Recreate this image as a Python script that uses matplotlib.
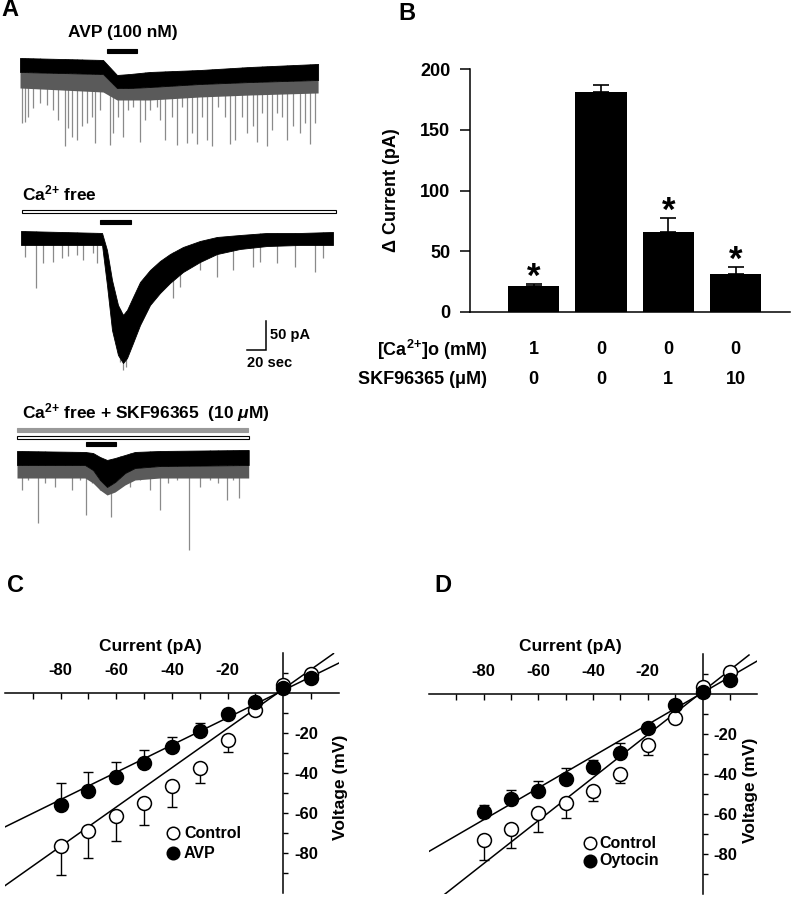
import matplotlib
matplotlib.use("Agg")
import matplotlib.pyplot as plt
import matplotlib.patches as patches
import matplotlib.transforms as mtransforms
import numpy as np

# ---------------- fonts ----------------
plt.rcParams['font.family'] = ['Liberation Sans', 'DejaVu Sans']
plt.rcParams['font.weight'] = 'bold'
plt.rcParams['axes.unicode_minus'] = False
plt.rcParams['mathtext.fontset'] = 'custom'
plt.rcParams['mathtext.rm'] = 'Liberation Sans:bold'
plt.rcParams['mathtext.it'] = 'Liberation Sans:bold:italic'
plt.rcParams['mathtext.bf'] = 'Liberation Sans:bold'
plt.rcParams['mathtext.default'] = 'rm'

W, H = 793, 899

# ==========================================
# DATA  (time in s, current in pA, voltage in mV)
# ==========================================
# --- A: trace 1, AVP (100 nM) ---
A1_T = [0, 87.4, 102.1, 115.8, 136.8, 189.5, 242.2, 313.8]
A1_TOP = [0, -3.4, -29.3, -27.6, -24.1, -20.7, -15.5, -10.3]
A1_BOT = [-24.1, -27.6, -51.7, -51.7, -50.0, -44.8, -41.4, -37.9]
A1_FRINGE = [-51.7, -58.6, -72.4, -72.4, -72.4, -67.2, -63.8, -60.3]
A1_EVT_T = [1.8, 5.3, 8.8, 14.0, 21.1, 28.1, 35.1, 40.4, 47.4, 50.9, 54.4, 59.6, 64.9, 70.2,
            75.4, 79.0, 84.2, 94.8, 98.3, 103.6, 108.8, 114.1, 119.4, 126.4, 131.6, 136.9,
            143.9, 147.4, 152.7, 159.7, 165.0, 170.2, 175.5, 180.8, 186.0, 191.3, 196.5,
            201.8, 208.8, 215.8, 221.1, 226.4, 233.4, 238.7, 245.7, 249.2, 254.5, 259.7,
            265.0, 270.3, 275.5, 280.8, 287.8, 294.8, 300.1, 305.4, 310.6]
A1_EVT_I = [-112.6, -109.8, -101.0, -86.8, -78.0, -81.0, -89.6, -106.9, -152, -121.0, -135.6,
            -141.0, -118.0, -112.6, -101.0, -146, -89.6, -150, -129.9, -101.0, -135.6, -89.6,
            -83.9, -144, -106.9, -89.6, -83.9, -106.9, -141.0, -101.0, -150, -83.9, -147,
            -129.9, -148, -101.0, -141.0, -152, -83.9, -101.0, -149, -141.0, -101.0, -129.9,
            -118.0, -145, -95.4, -151, -124.0, -95.4, -101.0, -141.0, -118.0, -129.9, -112.6,
            -148, -112.6]
A1_AVP = (91.6, 123.2)

# --- A: trace 2, Ca2+ free ---
A2_T = [0, 85.3, 90.5, 95.8, 102.1, 107.4, 111.6, 117.9, 125.3, 135.8, 146.3, 156.8, 170.5,
        188.4, 206.3, 230.5, 258.9, 293.6, 328.4]
A2_TOP = [0, -3.4, -32.8, -84.5, -127.6, -144.8, -136.2, -113.8, -87.9, -67.2, -51.7, -39.7,
          -27.6, -17.2, -10.3, -6.9, -3.4, -3.4, -1.7]
A2_BOT = [-24.1, -24.1, -93.1, -170.7, -213.8, -227.6, -219.0, -193.1, -162.1, -127.6, -106.9,
          -89.6, -70.7, -53.4, -39.7, -31.0, -25.9, -24.1, -24.1]
A2_EVT_T = [4.2, 15.8, 23.5, 34.0, 42.8, 49.9, 58.6, 65.7, 76.2, 79.7, 104.0, 107.0, 111.0,
            160.4, 167.4, 188.4, 206.0, 223.5, 244.6, 251.6, 269.1, 288.4, 309.5, 318.3]
A2_EVT_I = [-44.3, -98.8, -55.7, -52.9, -47.1, -43.1, -41.4, -50.0, -38.5, -55.7, -225.0,
            -240.0, -235.0, -116.0, -96.0, -67.2, -78.7, -67.2, -61.5, -52.9, -55.7, -61.5,
            -70.1, -47.1]
A2_CAFREE = (1.1, 331.7)
A2_AVP = (83.2, 115.8)

# --- A: trace 3, Ca2+ free + SKF96365 (10 uM) ---
A3_T = [0, 71.6, 80.0, 87.4, 94.8, 103.2, 113.7, 124.2, 150.5, 243.9]
A3_TOP = [-1.7, -3.4, -5.2, -12.1, -17.2, -13.8, -8.6, -3.4, -1.7, 0]
A3_BOT = [-25.9, -25.9, -34.5, -51.7, -63.8, -55.2, -39.7, -31.0, -27.6, -25.9]
A3_FRINGE = [-48.3, -48.3, -56.9, -69.0, -77.6, -72.4, -60.3, -51.7, -48.3, -48.3]
A3_EVT_T = [4.9, 11.9, 22.5, 29.5, 40.0, 50.5, 57.6, 66.3, 72.7, 78.6, 87.4, 99.0, 108.5,
            119.0, 129.5, 140.1, 150.6, 159.4, 168.1, 181.1, 192.7, 203.2, 212.0, 220.8,
            227.8, 234.1, 241.8]
A3_EVT_I = [-69.0, -51.7, -126.4, -57.5, -63.2, -46.0, -69.0, -51.7, -112.0, -57.5, -69.0,
            -115.0, -51.7, -63.2, -51.7, -69.0, -103.4, -57.5, -51.7, -172.4, -63.2, -51.7,
            -57.5, -86.2, -51.7, -83.3, -46.0]
A3_SKF = (0, 243.2)
A3_CAFREE = (0, 244.3)
A3_AVP = (72.7, 104.2)

SCALE_T = 20   # sec
SCALE_I = 50   # pA

# --- B ---
B_MEAN = [21, 181, 66, 31]
B_SEM = [2, 6, 11.5, 6]
B_STAR = [True, False, True, True]
B_CA = ['1', '0', '0', '0']
B_SKF = ['0', '0', '1', '10']

# --- C / D : I-V relations ---
IV_I = [-80, -70, -60, -50, -40, -30, -20, -10, 0, 10]
C_CTRL_V = [-76.5, -69, -61.5, -55, -46.5, -37.5, -23.5, -8.5, 4, 9.5]
C_CTRL_ELO = [14.5, 13.5, 12.5, 11, 10.5, 7.5, 6, 0, 0, 0]
C_AVP_V = [-56, -49, -42, -35, -27, -19, -10.5, -4.5, 2.5, 7.5]
C_AVP_EHI = [11, 9.5, 7.5, 6.5, 5, 4, 0, 0, 0, 0]
C_CTRL_FIT = ([-100, 18], [-96.4, 19.7])
C_AVP_FIT = ([-100, 20], [-67.0, 15.0])

D_CTRL_V = [-73, -67.5, -59.5, -54.5, -48.5, -40, -25.5, -12, 3.5, 11]
D_CTRL_ELO = [10, 9.5, 9.5, 7.5, 5, 4.5, 5, 0, 0, 0]
D_CTRL_EHI = [0, 0, 0, 0, 0, 0, 0, 0, 0, 2.5]
D_OXY_V = [-59, -52.5, -48.5, -42.5, -36.5, -29.5, -17, -5.5, 1, 7]
D_OXY_EHI = [3.5, 4.5, 5, 5.5, 3.5, 5, 0, 0, 0, 0]
D_CTRL_FIT = ([-100, 17], [-106.3, 19.5])
D_OXY_FIT = ([-100, 20], [-78.7, 16.5])

IV_TICKS = [-90, -80, -70, -60, -50, -40, -30, -20, -10, 10]
IV_LABELS = ['', '-80', '', '-60', '', '-40', '', '-20', '', '']
V_LABELS = ['', '-80', '', '-60', '', '-40', '', '-20', '', '']

# ==========================================
# helpers (pixel layout)
# ==========================================
T_PX = 20 / 19.0     # sec per pixel
I_PX = 50 / 29.0     # pA per pixel

fig = plt.figure(figsize=(W / 100, H / 100), dpi=100)


def box(l, t, r, b):
    return [l / W, 1 - b / H, (r - l) / W, (b - t) / H]


def ftxt(x, y, s, **kw):
    return fig.text(x / W, 1 - y / H, s, **kw)


def trace_axes(l, t, r, b, x0, y0):
    ax = fig.add_axes(box(l, t, r, b))
    ax.set_xlim((l - x0) * T_PX, (r - x0) * T_PX)
    ax.set_ylim(-(b - y0) * I_PX, -(t - y0) * I_PX)
    ax.axis('off')
    return ax


def draw_trace(ax, t, top, bot, fringe, ev_t, ev_i):
    base = np.interp(ev_t, t, top)
    ax.vlines(ev_t, base, ev_i, color='#8a8a8a', lw=0.9, zorder=1)
    if fringe is not None:
        ax.fill_between(t, bot, fringe, color='#5a5a5a', lw=0, zorder=2)
    ax.fill_between(t, top, bot, color='black', lw=0.6, edgecolor='black', zorder=3)


def drug_bar(ax, span, py, y0, h_px, face, edge):
    yc = -(py - y0) * I_PX
    h = h_px * I_PX
    ax.add_patch(patches.Rectangle((span[0], yc - h / 2), span[1] - span[0], h,
                                   facecolor=face, edgecolor=edge, lw=0.8, clip_on=False))


CA = r'Ca$^{2{+}}$'

# ==========================================
# A
# ==========================================
ftxt(10, 10, 'A', fontsize=17, ha='center', va='center')

a1 = trace_axes(15, 40, 340, 160, 20, 58)
draw_trace(a1, A1_T, A1_TOP, A1_BOT, A1_FRINGE, A1_EVT_T, A1_EVT_I)
drug_bar(a1, A1_AVP, 51, 58, 4.3, 'black', 'black')
ftxt(68, 32, 'AVP (100 nM)', fontsize=12.5, ha='left', va='center')

a2 = trace_axes(15, 200, 340, 375, 21, 231)
draw_trace(a2, A2_T, A2_TOP, A2_BOT, None, A2_EVT_T, A2_EVT_I)
drug_bar(a2, A2_CAFREE, 211.5, 231, 3.5, 'white', 'black')
drug_bar(a2, A2_AVP, 222, 231, 4.3, 'black', 'black')
ftxt(22, 193, CA + ' free', fontsize=12.5, ha='left', va='center')
# scale bar
sb_t = (266 - 21) * T_PX
sb_i = -(350 - 231) * I_PX
a2.plot([sb_t - SCALE_T, sb_t, sb_t], [sb_i, sb_i, sb_i + SCALE_I], color='black', lw=1.1,
        clip_on=False, solid_joinstyle='miter')
ftxt(270, 335, f'{SCALE_I} pA', fontsize=10.5, ha='left', va='center')
ftxt(247, 363, f'{SCALE_T} sec', fontsize=10.5, ha='left', va='center')

a3 = trace_axes(10, 420, 340, 560, 17, 450)
draw_trace(a3, A3_T, A3_TOP, A3_BOT, A3_FRINGE, A3_EVT_T, A3_EVT_I)
drug_bar(a3, A3_SKF, 430, 450, 4.3, '#999999', '#999999')
drug_bar(a3, A3_CAFREE, 437.5, 450, 3.5, 'white', 'black')
drug_bar(a3, A3_AVP, 444, 450, 4.3, 'black', 'black')
ftxt(22, 413, CA + r' free + SKF96365  (10 $\mathit{\mu}$M)', fontsize=12.5,
     ha='left', va='center')

# ==========================================
# B
# ==========================================
ftxt(407, 14, 'B', fontsize=17, ha='center', va='center')
axb = fig.add_axes(box(470, 69, 790, 312))
xb = np.arange(len(B_MEAN))
axb.bar(xb, B_MEAN, width=0.76, color='black', zorder=2)
axb.errorbar(xb, B_MEAN, yerr=[np.zeros(len(B_SEM)), B_SEM], fmt='none', ecolor='black',
             elinewidth=1.2, capsize=5.5, capthick=1.2, zorder=1)
for i, s in enumerate(B_STAR):
    if s:
        axb.annotate('*', (xb[i], B_MEAN[i] + B_SEM[i]), xytext=(0, -2),
                     textcoords='offset points', ha='center', va='baseline', fontsize=25)
axb.set_xlim(-0.948, 3.81)
axb.set_ylim(0, 200)
axb.spines[['top', 'right']].set_visible(False)
for sp in ['left', 'bottom']:
    axb.spines[sp].set_linewidth(1.1)
axb.set_xticks([])
axb.set_yticks([0, 50, 100, 150, 200])
axb.tick_params(axis='y', length=7.2, width=1.1, pad=7, labelsize=13)
ftxt(392, 190, '\u0394 Current (pA)', fontsize=13, rotation=90, ha='center', va='center')

trow = mtransforms.blended_transform_factory(axb.transData, fig.transFigure)
for i in range(len(B_CA)):
    axb.text(xb[i], 1 - 350 / H, B_CA[i], transform=trow, ha='center', va='center', fontsize=13)
    axb.text(xb[i], 1 - 380 / H, B_SKF[i], transform=trow, ha='center', va='center', fontsize=13)
ftxt(487, 350, '[' + CA + ']o (mM)', fontsize=13, ha='right', va='center')
ftxt(487, 380, 'SKF96365 (\u03bcM)', fontsize=13, ha='right', va='center')


# ==========================================
# C / D
# ==========================================
def iv_panel(rect, ctrl_v, ctrl_err, drug_v, drug_err, ctrl_fit, drug_fit, drug_name,
             leg_x, leg_tx, leg_y):
    ax = fig.add_axes(box(*rect))
    ax.set_xlim(-100, 20)
    ax.set_ylim(-100, 20)
    ax.patch.set_visible(False)
    ax.spines[['left', 'bottom']].set_visible(False)
    ax.spines['top'].set_position(('data', 0))
    ax.spines['right'].set_position(('data', 0))
    for sp in ['top', 'right']:
        ax.spines[sp].set_linewidth(1.1)
    ax.xaxis.set_ticks_position('top')
    ax.yaxis.set_ticks_position('right')
    ax.set_xticks(IV_TICKS)
    ax.set_xticklabels(IV_LABELS)
    ax.set_yticks(IV_TICKS)
    ax.set_yticklabels(V_LABELS)
    ax.tick_params(axis='x', direction='in', length=4, width=1, pad=11, labelsize=12)
    ax.tick_params(axis='y', direction='out', length=3.5, width=1, pad=4.5, labelsize=12)

    ax.plot(*ctrl_fit, color='black', lw=1.1, zorder=2)
    ax.plot(*drug_fit, color='black', lw=1.1, zorder=2)
    ax.errorbar(IV_I, ctrl_v, yerr=ctrl_err, fmt='none', ecolor='black', elinewidth=1,
                capsize=3.5, capthick=1, zorder=3)
    ax.errorbar(IV_I, drug_v, yerr=drug_err, fmt='none', ecolor='black', elinewidth=1,
                capsize=3.5, capthick=1, zorder=3)
    ax.plot(IV_I, ctrl_v, 'o', ms=10, mfc='white', mec='black', mew=1.1, zorder=4,
            clip_on=False)
    ax.plot(IV_I, drug_v, 'o', ms=10, mfc='black', mec='black', mew=1.1, zorder=5,
            clip_on=False)

    # legend
    ax.plot([leg_x], [leg_y[0]], 'o', ms=9, mfc='white', mec='black', mew=1.1,
            transform=ax.transAxes, clip_on=False)
    ax.plot([leg_x], [leg_y[1]], 'o', ms=9, mfc='black', mec='black', mew=1.1,
            transform=ax.transAxes, clip_on=False)
    ax.text(leg_tx, leg_y[0], 'Control', transform=ax.transAxes, ha='left', va='center',
            fontsize=11.5)
    ax.text(leg_tx, leg_y[1], drug_name, transform=ax.transAxes, ha='left', va='center',
            fontsize=11.5)
    return ax


ftxt(16, 586, 'C', fontsize=17, ha='center', va='center')
iv_panel((4.8, 653, 339, 893), C_CTRL_V, [C_CTRL_ELO, [0] * len(IV_I)], C_AVP_V,
         [[0] * len(IV_I), C_AVP_EHI], C_CTRL_FIT, C_AVP_FIT, 'AVP',
         (173 - 4.8) / 334.2, (184 - 4.8) / 334.2, [(893 - 833) / 240, (893 - 853) / 240])
ftxt(150, 647, 'Current (pA)', fontsize=12.5, ha='center', va='center')
ftxt(340, 787, 'Voltage (mV)', fontsize=12.5, rotation=90, ha='center', va='center')

ftxt(443, 586, 'D', fontsize=17, ha='center', va='center')
iv_panel((429, 654, 757.2, 894), D_CTRL_V, [D_CTRL_ELO, D_CTRL_EHI], D_OXY_V,
         [[0] * len(IV_I), D_OXY_EHI], D_CTRL_FIT, D_OXY_FIT, 'Oytocin',
         (590 - 429) / 328.2, (599 - 429) / 328.2, [(894 - 843) / 240, (894 - 861) / 240])
ftxt(570, 647, 'Current (pA)', fontsize=12.5, ha='center', va='center')
ftxt(750, 790, 'Voltage (mV)', fontsize=12.5, rotation=90, ha='center', va='center')

fig.savefig('out.png', dpi=100, facecolor='white')
